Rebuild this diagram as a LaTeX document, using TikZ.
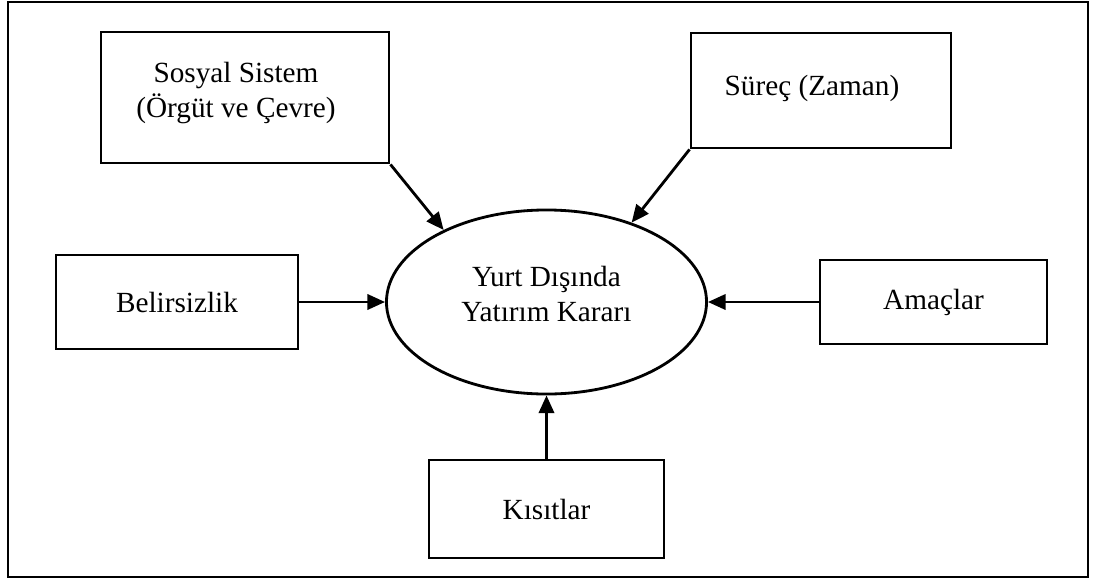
\documentclass[tikz,border=0pt]{standalone}
\usepackage{fontspec}
\setmainfont{Liberation Serif}
\usetikzlibrary{shapes.geometric,arrows.meta}
\begin{document}
\begin{tikzpicture}[x=0.025cm,y=-0.025cm,
  every node/.style={font=\fontsize{20.8}{25}\selectfont, align=center, inner sep=0pt},
  factor/.style={draw, line width=2pt, rectangle},
  decision/.style={draw, line width=2pt, ellipse, minimum width=8cm, minimum height=4.6cm},
  influence/.style={line width=2pt, -{Triangle[length=0.44cm,width=0.38cm]}}]
  \useasboundingbox (0,0) rectangle (1093,579);
  % outer frame
  \draw[line width=1.6pt] (8,2) rectangle (1088,577);
  % central decision
  \node[decision] (e) at (546.5,302) {};
  \node (etext) at (546.5,294) {Yurt Dışında\\Yatırım Kararı};
  % influencing factors
  \node[factor, minimum width=7.2cm, minimum height=3.275cm] (sos) at (245,97.5) {};
  \node (sostext) at (236,93) {Sosyal Sistem\\(Örgüt ve Çevre)};
  \node[factor, minimum width=6.5cm, minimum height=2.875cm] (sur) at (821,90.5) {};
  \node (surtext) at (812,88) {Süreç (Zaman)};
  \node[factor, minimum width=6.05cm, minimum height=2.35cm] (bel) at (177,302) {Belirsizlik};
  \node[factor, minimum width=5.675cm, minimum height=2.1cm] (ama) at (933.5,302) {Amaçlar};
  \node[factor, minimum width=5.875cm, minimum height=2.45cm] (kis) at (546.5,509) {Kısıtlar};
  % connectors
  \draw[influence] (sos.south east) -- (e.145);
  \draw[influence] (sur.south west) -- (e.43);
  \draw[influence] (bel.east) -- (e.west);
  \draw[influence] (ama.west) -- (e.east);
  \draw[influence] (kis.north) -- (e.south);
\end{tikzpicture}
\end{document}
